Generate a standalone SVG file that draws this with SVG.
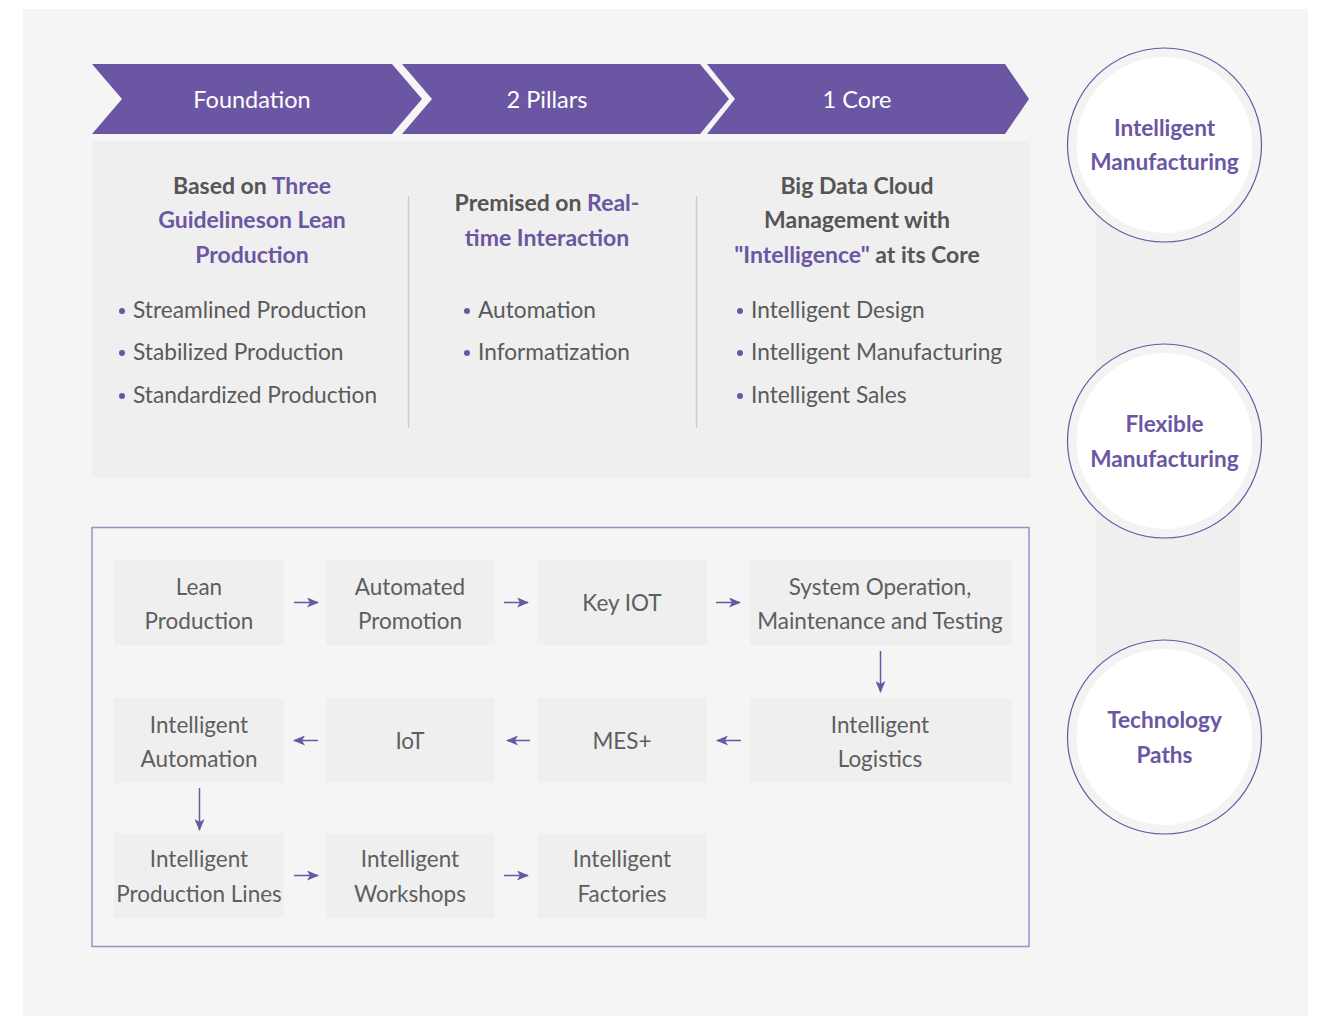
<svg xmlns="http://www.w3.org/2000/svg" width="1322" height="1016" viewBox="0 0 1322 1016">
<style>
text{font-family:Lato,"Liberation Sans",sans-serif;}
.hdr{fill:#ffffff;font-size:23.5px;text-anchor:middle;}
.head{fill:#555555;font-size:23px;font-weight:bold;text-anchor:middle;}
.pu{fill:#6b56a3;}
.item{fill:#5a5a5a;font-size:22.7px;}
.dot{fill:#6b56a3;}
.circ{fill:#6b56a3;font-size:22.6px;font-weight:bold;text-anchor:middle;}
.node rect{fill:#efefef;}
.node text{fill:#5e5e5e;font-size:22.5px;text-anchor:middle;}
.conn line{stroke:#6b56a3;stroke-width:1.5;fill:none;marker-end:url(#ah);}
</style>
<defs>
<marker id="ah" viewBox="0 0 12 10" refX="11" refY="5" markerWidth="12" markerHeight="10" markerUnits="userSpaceOnUse" orient="auto">
<path d="M0,0 L12,5 L0,10 L3,5 Z" fill="#6b56a3"/>
</marker>
</defs>
<rect x="0" y="0" width="1322" height="1016" fill="#ffffff"/>
<rect x="23" y="9" width="1285" height="1007" fill="#f5f5f5"/>

<g id="stage-foundation">
<polygon points="92,64 392,64 422,99 392,134 92,134 122,99" fill="#6b56a3"/>
<text class="hdr" x="252" y="108">Foundation</text>
</g>
<g id="stage-pillars">
<polygon points="402,64 700,64 729,99 700,134 402,134 432,99" fill="#6b56a3"/>
<text class="hdr" x="547" y="108">2 Pillars</text>
</g>
<g id="stage-core">
<polygon points="707,64 1005,64 1029,99 1005,134 707,134 735,99" fill="#6b56a3"/>
<text class="hdr" x="857" y="108">1 Core</text>
</g>

<g id="panel">
<rect x="92" y="141" width="938" height="337" fill="#efefef"/>
<line x1="408.5" y1="196" x2="408.5" y2="428" stroke="#cccccc" stroke-width="1.5"/>
<line x1="696.5" y1="196" x2="696.5" y2="428" stroke="#cccccc" stroke-width="1.5"/>
</g>

<g id="col-foundation">
<text class="head" x="252" y="194">Based on <tspan class="pu">Three</tspan></text>
<text class="head pu" x="252" y="228">Guidelineson Lean</text>
<text class="head pu" x="252" y="263">Production</text>
<circle class="dot" cx="122" cy="311" r="3"/>
<text class="item" x="133" y="318">Streamlined Production</text>
<circle class="dot" cx="122" cy="353" r="3"/>
<text class="item" x="133" y="360">Stabilized Production</text>
<circle class="dot" cx="122" cy="396" r="3"/>
<text class="item" x="133" y="403">Standardized Production</text>
</g>

<g id="col-pillars">
<text class="head" x="547" y="211">Premised on <tspan class="pu">Real-</tspan></text>
<text class="head pu" x="547" y="246">time Interaction</text>
<circle class="dot" cx="467" cy="311" r="3"/>
<text class="item" x="478" y="318">Automation</text>
<circle class="dot" cx="467" cy="353" r="3"/>
<text class="item" x="478" y="360">Informatization</text>
</g>

<g id="col-core">
<text class="head" x="857" y="194">Big Data Cloud</text>
<text class="head" x="857" y="228">Management with</text>
<text class="head" x="857" y="263"><tspan class="pu">"Intelligence"</tspan> at its Core</text>
<circle class="dot" cx="740" cy="311" r="3"/>
<text class="item" x="751" y="318">Intelligent Design</text>
<circle class="dot" cx="740" cy="353" r="3"/>
<text class="item" x="751" y="360">Intelligent Manufacturing</text>
<circle class="dot" cx="740" cy="396" r="3"/>
<text class="item" x="751" y="403">Intelligent Sales</text>
</g>

<rect x="1096" y="145" width="144" height="592" fill="#efefef"/>
<g id="circle-intelligent">
<circle cx="1164.5" cy="145" r="97" fill="#f3f3f3" stroke="#6b56a3" stroke-width="1.2"/>
<circle cx="1164.5" cy="145" r="88" fill="#ffffff"/>
<text class="circ" x="1164.5" y="136">Intelligent</text>
<text class="circ" x="1164.5" y="170">Manufacturing</text>
</g>
<g id="circle-flexible">
<circle cx="1164.5" cy="441" r="97" fill="#f3f3f3" stroke="#6b56a3" stroke-width="1.2"/>
<circle cx="1164.5" cy="441" r="88" fill="#ffffff"/>
<text class="circ" x="1164.5" y="432">Flexible</text>
<text class="circ" x="1164.5" y="467">Manufacturing</text>
</g>
<g id="circle-technology">
<circle cx="1164.5" cy="737" r="97" fill="#f3f3f3" stroke="#6b56a3" stroke-width="1.2"/>
<circle cx="1164.5" cy="737" r="88" fill="#ffffff"/>
<text class="circ" x="1164.5" y="728">Technology</text>
<text class="circ" x="1164.5" y="763">Paths</text>
</g>

<rect x="92" y="527.5" width="937" height="419" fill="#f5f5f5" stroke="#9d90c8" stroke-width="1.5"/>

<g id="n-lean" class="node"><rect x="114" y="560" width="170" height="85"/><text x="199" y="595">Lean</text><text x="199" y="629">Production</text></g>
<g id="n-automated" class="node"><rect x="326" y="560" width="169" height="85"/><text x="410" y="595">Automated</text><text x="410" y="629">Promotion</text></g>
<g id="n-keyiot" class="node"><rect x="537" y="560" width="170" height="85"/><text x="622" y="611">Key IOT</text></g>
<g id="n-system" class="node"><rect x="750" y="560" width="262" height="85"/><text x="880" y="595">System Operation,</text><text x="880" y="629">Maintenance and Testing</text></g>
<g id="n-logistics" class="node"><rect x="750" y="698" width="262" height="85"/><text x="880" y="733">Intelligent</text><text x="880" y="767">Logistics</text></g>
<g id="n-mes" class="node"><rect x="537" y="698" width="170" height="85"/><text x="622" y="749">MES+</text></g>
<g id="n-iot" class="node"><rect x="326" y="698" width="169" height="85"/><text x="410" y="749">IoT</text></g>
<g id="n-automation" class="node"><rect x="114" y="698" width="170" height="85"/><text x="199" y="733">Intelligent</text><text x="199" y="767">Automation</text></g>
<g id="n-lines" class="node"><rect x="114" y="833" width="170" height="85"/><text x="199" y="867">Intelligent</text><text x="199" y="902">Production Lines</text></g>
<g id="n-workshops" class="node"><rect x="326" y="833" width="169" height="85"/><text x="410" y="867">Intelligent</text><text x="410" y="902">Workshops</text></g>
<g id="n-factories" class="node"><rect x="537" y="833" width="170" height="85"/><text x="622" y="867">Intelligent</text><text x="622" y="902">Factories</text></g>

<g id="connectors" class="conn">
<line x1="294" y1="602.5" x2="318" y2="602.5"/>
<line x1="504" y1="602.5" x2="528" y2="602.5"/>
<line x1="716" y1="602.5" x2="740" y2="602.5"/>
<line x1="880.5" y1="651" x2="880.5" y2="692"/>
<line x1="741" y1="740.5" x2="717" y2="740.5"/>
<line x1="530" y1="740.5" x2="507" y2="740.5"/>
<line x1="318" y1="740.5" x2="294" y2="740.5"/>
<line x1="199.5" y1="788" x2="199.5" y2="830"/>
<line x1="294" y1="875.5" x2="318" y2="875.5"/>
<line x1="504" y1="875.5" x2="528" y2="875.5"/>
</g>
</svg>
